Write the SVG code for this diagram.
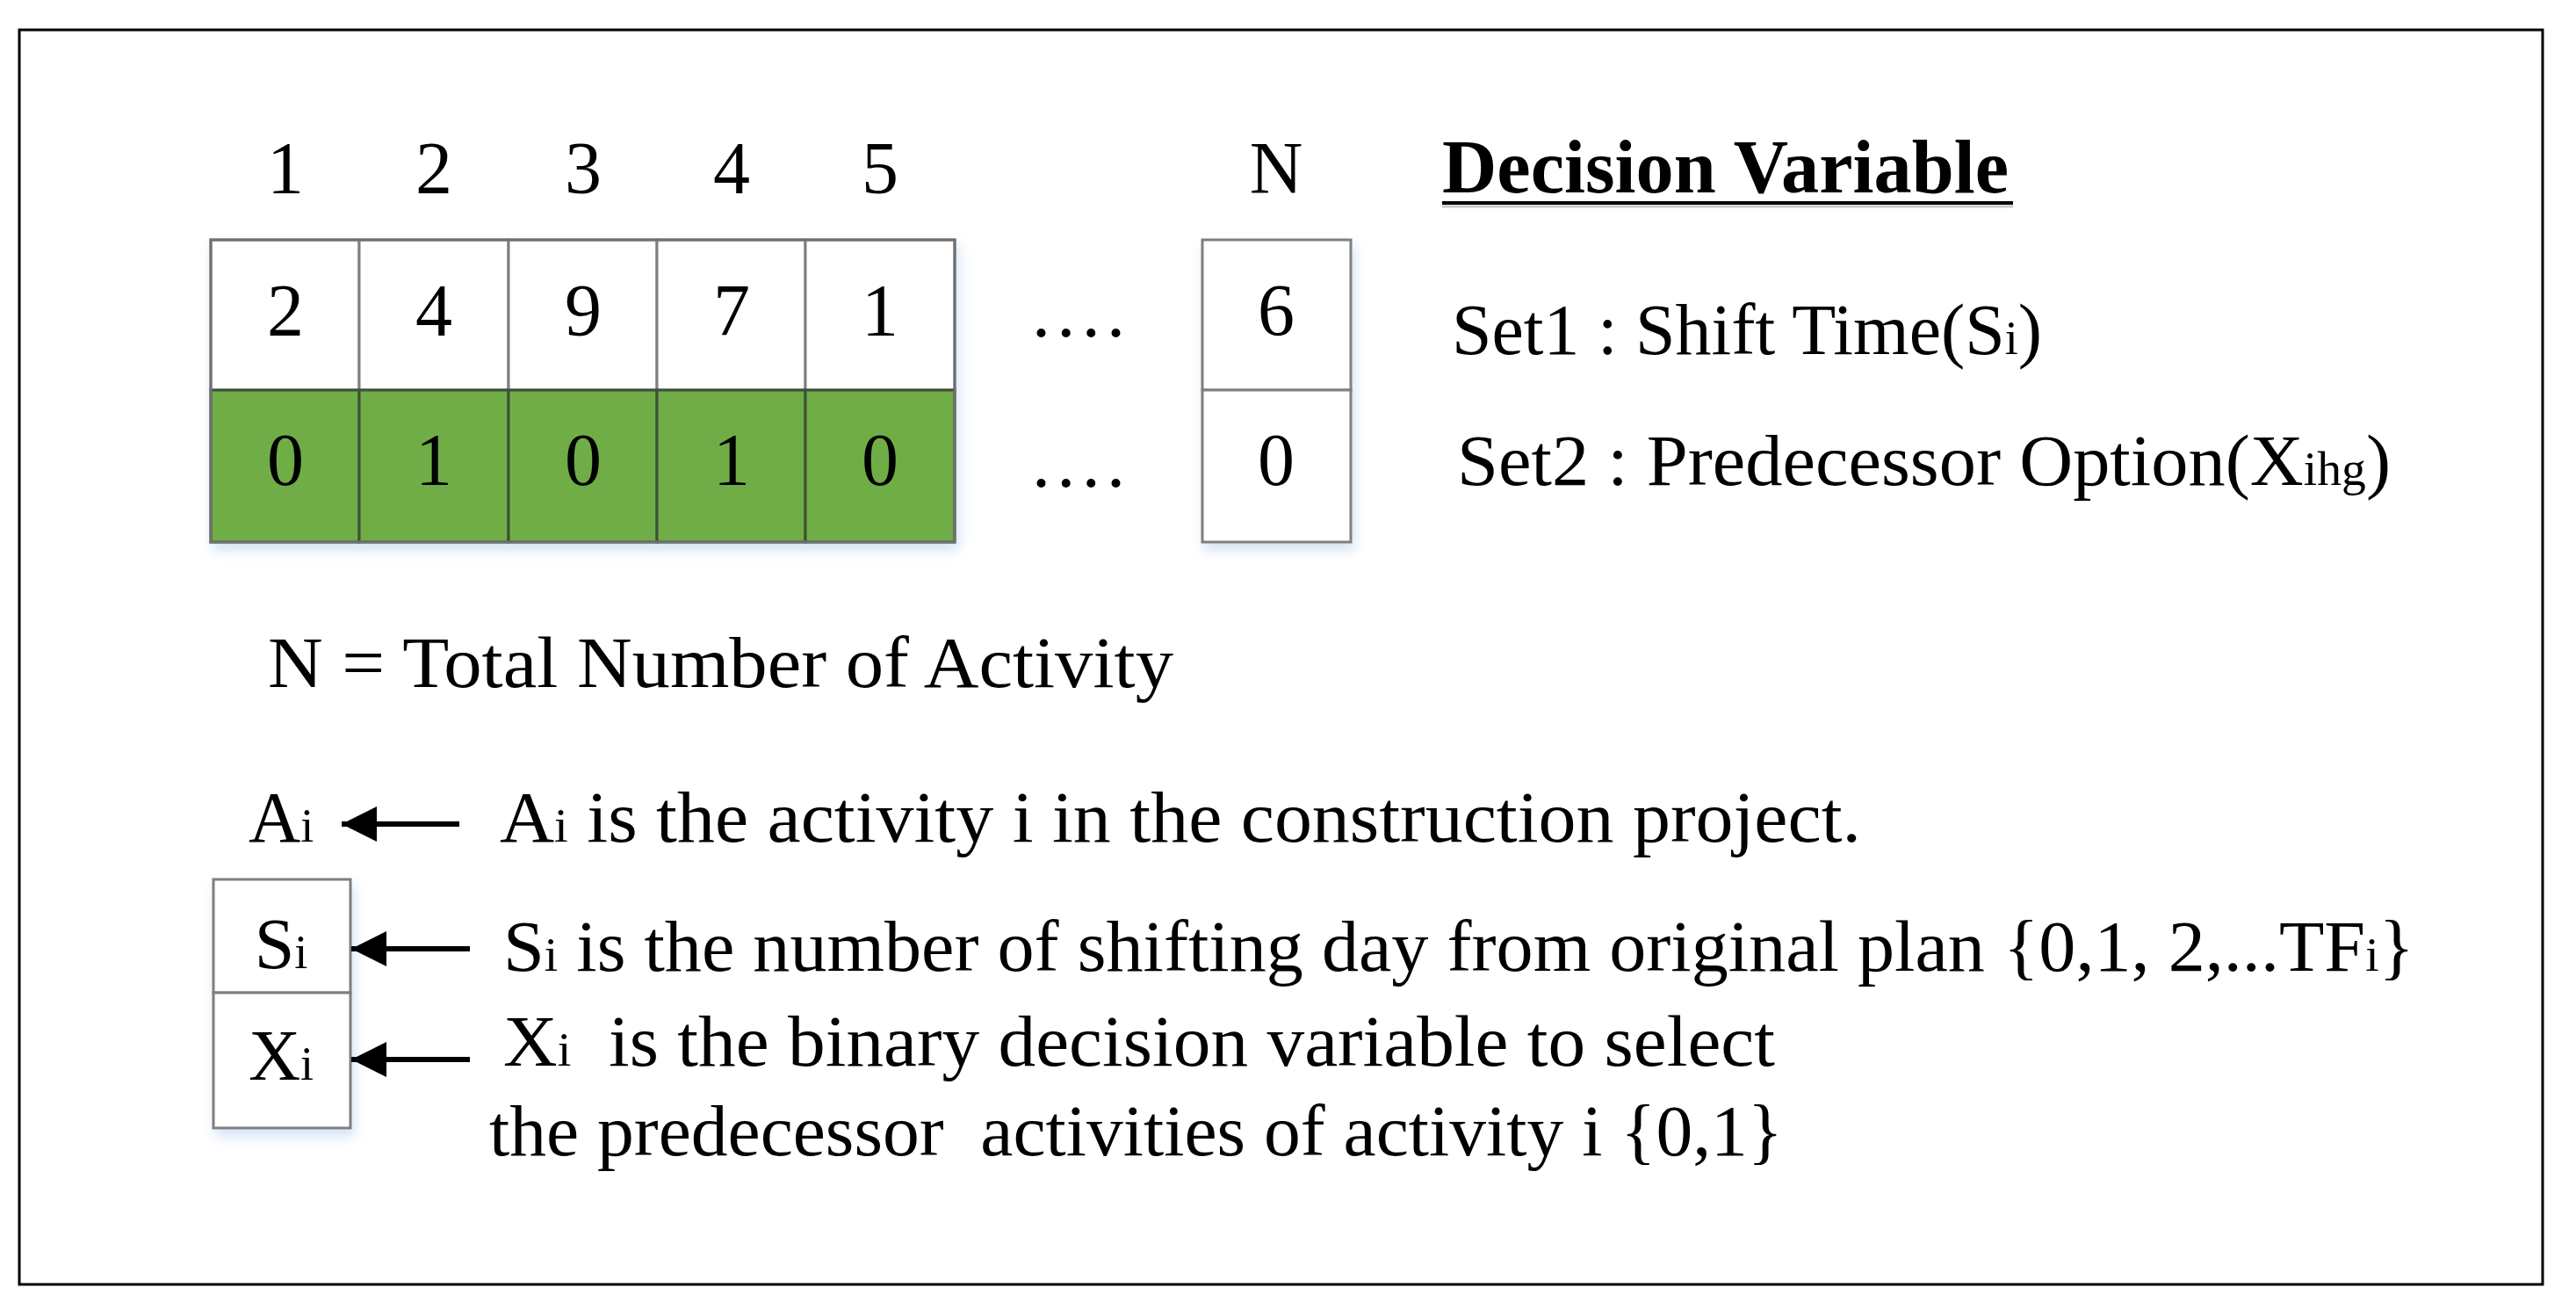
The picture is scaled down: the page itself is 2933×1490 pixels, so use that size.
<svg xmlns="http://www.w3.org/2000/svg" width="2933" height="1490" viewBox="0 0 2933 1490">
<style>
text{font-family:"Liberation Serif","Times New Roman",serif;fill:#000}
.num{font-size:84px;text-anchor:middle}
.lbl{font-size:82px}
.sub{font-size:54px}
.cellw{fill:#fff;stroke:#7f7f7f;stroke-width:3}
.cellg{fill:#70ad47;stroke:#3f4f38;stroke-width:3}
.conn{stroke:#000;stroke-width:6;fill:none}
</style>
<defs>
<filter id="sh" x="-20%" y="-20%" width="140%" height="150%">
<feDropShadow dx="3" dy="8" stdDeviation="7" flood-color="#9dc3e6" flood-opacity="0.45"/>
</filter>
<marker id="ah" markerUnits="userSpaceOnUse" markerWidth="42" markerHeight="42" refX="40" refY="21" orient="auto">
<polygon points="0,1 40,21 0,41" fill="#000"/>
</marker>
</defs>
<rect x="0" y="0" width="2933" height="1490" fill="#fff"/>
<rect x="22" y="34" width="2873" height="1428" fill="#fff" stroke="#000" stroke-width="3"/>

<g id="index-labels">
<text class="num" x="325" y="220">1</text>
<text class="num" x="494" y="220">2</text>
<text class="num" x="664" y="220">3</text>
<text class="num" x="833" y="220">4</text>
<text class="num" x="1002" y="220">5</text>
<text class="num" x="1453" y="220">N</text>
</g>

<g id="grid" filter="url(#sh)">
<rect class="cellw" x="240" y="273" width="169" height="171"/>
<rect class="cellw" x="409" y="273" width="170" height="171"/>
<rect class="cellw" x="579" y="273" width="169" height="171"/>
<rect class="cellw" x="748" y="273" width="169" height="171"/>
<rect class="cellw" x="917" y="273" width="170" height="171"/>
<rect class="cellg" x="240" y="444" width="169" height="173"/>
<rect class="cellg" x="409" y="444" width="170" height="173"/>
<rect class="cellg" x="579" y="444" width="169" height="173"/>
<rect class="cellg" x="748" y="444" width="169" height="173"/>
<rect class="cellg" x="917" y="444" width="170" height="173"/>
<rect x="240" y="273" width="847" height="344" fill="none" stroke="#6f6f6f" stroke-width="3"/>
</g>
<g id="grid-values">
<text class="num" x="325" y="382">2</text>
<text class="num" x="494" y="382">4</text>
<text class="num" x="664" y="382">9</text>
<text class="num" x="833" y="382">7</text>
<text class="num" x="1002" y="382">1</text>
<text class="num" x="325" y="552">0</text>
<text class="num" x="494" y="552">1</text>
<text class="num" x="664" y="552">0</text>
<text class="num" x="833" y="552">1</text>
<text class="num" x="1002" y="552">0</text>
</g>

<g id="dots">
<text class="num" x="1228" y="383" textLength="106" lengthAdjust="spacing">....</text>
<text class="num" x="1228" y="554" textLength="106" lengthAdjust="spacing">....</text>
</g>

<g id="n-box" filter="url(#sh)">
<rect class="cellw" x="1369" y="273" width="169" height="171"/>
<rect class="cellw" x="1369" y="444" width="169" height="173"/>
</g>
<g id="n-values">
<text class="num" x="1453" y="382">6</text>
<text class="num" x="1453" y="552">0</text>
</g>

<g id="title">
<text x="1642" y="219" font-size="86" font-weight="bold" textLength="645" lengthAdjust="spacingAndGlyphs">Decision Variable</text>
<line x1="1642" y1="235" x2="2292" y2="235" stroke="#c8c8c8" stroke-width="3"/>
<line x1="1642" y1="231" x2="2292" y2="231" stroke="#000" stroke-width="4"/>
</g>

<g id="set-labels">
<text class="lbl" x="1653" y="403" textLength="672" lengthAdjust="spacingAndGlyphs">Set1 : Shift Time(S<tspan class="sub">i</tspan>)</text>
<text class="lbl" x="1659" y="552" textLength="1063" lengthAdjust="spacingAndGlyphs">Set2 : Predecessor Option(X<tspan class="sub">ihg</tspan>)</text>
</g>

<g id="n-def">
<text class="lbl" x="305" y="782" textLength="1031" lengthAdjust="spacingAndGlyphs">N = Total Number of Activity</text>
</g>

<g id="node-ai">
<text class="lbl" x="283" y="958">A<tspan class="sub">i</tspan></text>
</g>

<g id="node-si-xi" filter="url(#sh)">
<rect class="cellw" x="243" y="1001" width="156" height="129"/>
<rect class="cellw" x="243" y="1130" width="156" height="154"/>
</g>
<g id="node-si-xi-text">
<text class="lbl" x="320" y="1102" text-anchor="middle">S<tspan class="sub">i</tspan></text>
<text class="lbl" x="320" y="1229" text-anchor="middle">X<tspan class="sub">i</tspan></text>
</g>

<g id="connectors">
<line class="conn" x1="523" y1="938" x2="389" y2="938" marker-end="url(#ah)"/>
<line class="conn" x1="535" y1="1080" x2="400" y2="1080" marker-end="url(#ah)"/>
<line class="conn" x1="535" y1="1206" x2="400" y2="1206" marker-end="url(#ah)"/>
</g>

<g id="descriptions">
<text class="lbl" x="569" y="958" textLength="1550" lengthAdjust="spacingAndGlyphs">A<tspan class="sub">i</tspan> is the activity i in the construction project.</text>
<text class="lbl" x="573" y="1105" textLength="2176" lengthAdjust="spacingAndGlyphs">S<tspan class="sub">i</tspan> is the number of shifting day from original plan {0,1, 2,...TF<tspan class="sub">i</tspan>}</text>
<text class="lbl" x="573" y="1213" textLength="1448" lengthAdjust="spacingAndGlyphs">X<tspan class="sub">i</tspan>&#160; is the binary decision variable to select</text>
<text class="lbl" x="557" y="1315" textLength="1473" lengthAdjust="spacingAndGlyphs">the predecessor&#160; activities of activity i {0,1}</text>
</g>
</svg>
